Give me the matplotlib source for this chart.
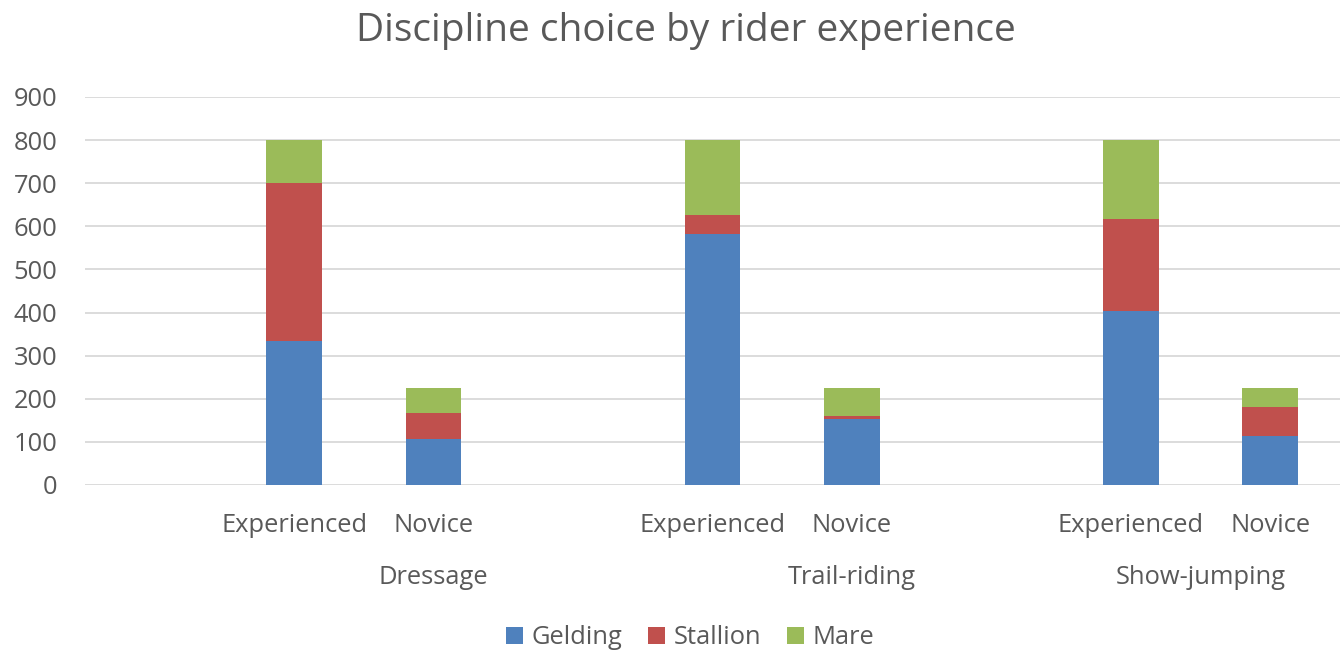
import numpy as np
import matplotlib.pyplot as plt

plt.rcParams['font.family'] = ['Open Sans', 'DejaVu Sans']

disciplines = ["Dressage", "Trail-riding", "Show-jumping"]
levels = ["Experienced", "Novice"]
gelding = [334, 106, 583, 153, 404, 113]
stallion = [366, 61, 43, 7, 213, 67]
mare = [100, 57, 174, 64, 183, 44]

text_col = "#595959"
colors = {"Gelding": "#4F81BD", "Stallion": "#C0504D", "Mare": "#9BBB59"}

# 9 category slots per chart, first slot of each group left empty
x = np.array([1, 2, 4, 5, 7, 8])
group_x = [2.0, 5.0, 7.5]

fig = plt.figure(figsize=(13.43, 6.52), dpi=100)
ax = fig.add_axes([85 / 1343, 1 - 485 / 652, 1255 / 1343, 388 / 652])

g = np.array(gelding)
s = np.array(stallion)
m = np.array(mare)
w = 0.4
ax.bar(x, g, w, color=colors["Gelding"], label="Gelding", zorder=3)
ax.bar(x, s, w, bottom=g, color=colors["Stallion"], label="Stallion", zorder=3)
ax.bar(x, m, w, bottom=g + s, color=colors["Mare"], label="Mare", zorder=3)

ax.set_xlim(-0.5, 8.5)
ax.set_ylim(0, 900)
ax.set_yticks(range(0, 901, 100))
ax.yaxis.grid(True, color="#D9D9D9", linewidth=1.3, zorder=0)
for sp in ax.spines.values():
    sp.set_visible(False)
ax.tick_params(axis="y", length=0, pad=20, labelsize=18.4, labelcolor=text_col)
ax.set_xticks(x)
ax.set_xticklabels(levels * len(disciplines))
ax.tick_params(axis="x", length=0, pad=20, labelsize=18.4, labelcolor=text_col)

for name, gx in zip(disciplines, group_x):
    ax.text(gx, -0.238, name, transform=ax.get_xaxis_transform(),
            ha="center", va="center", fontsize=18.4, color=text_col)

fig.text(0.511, 0.952, "Discipline choice by rider experience",
         ha="center", va="center", fontsize=28, color=text_col)

leg = fig.legend(loc="center", bbox_to_anchor=(0.514, 0.022), ncol=3,
                 frameon=False, fontsize=18.4, handlelength=0.65, handleheight=0.65,
                 handletextpad=0.35, columnspacing=1.0)
for t in leg.get_texts():
    t.set_color(text_col)

fig.savefig("out.png", dpi=100)
